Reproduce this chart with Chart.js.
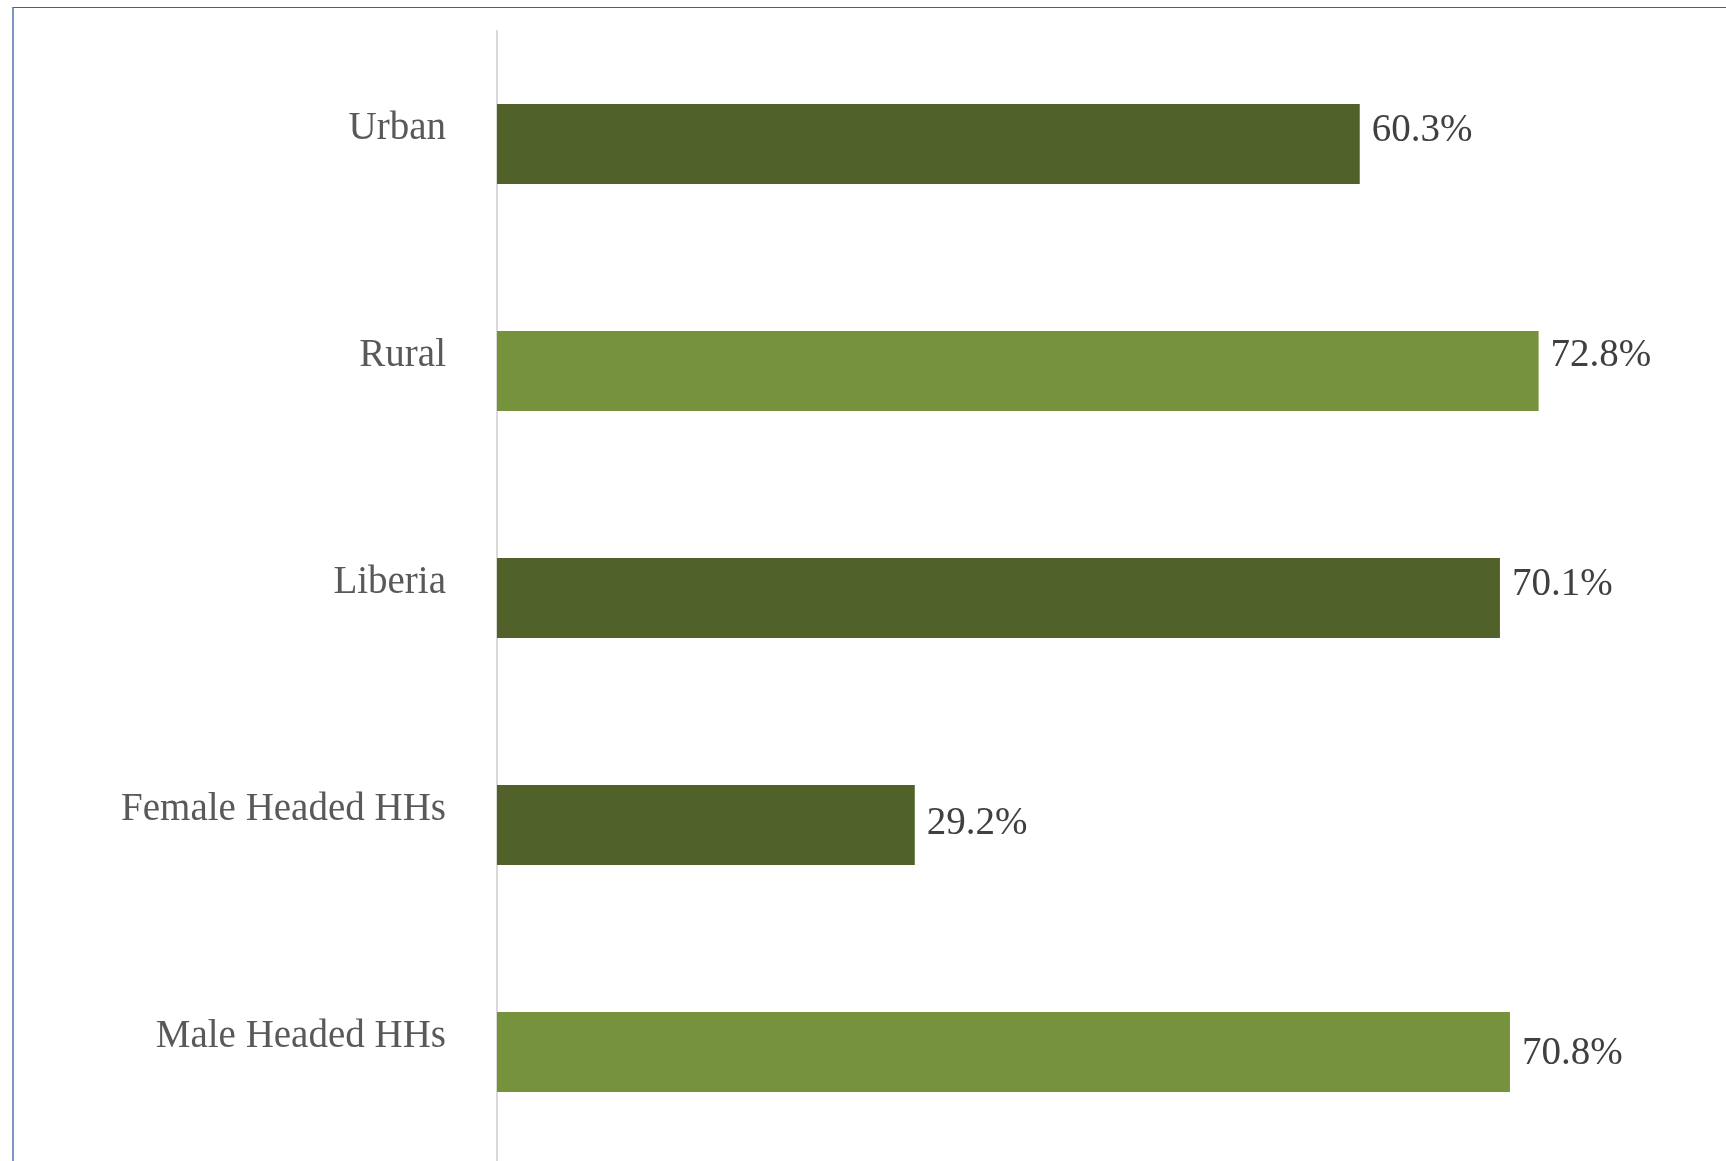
<!DOCTYPE html>
<html>
<head>
<meta charset="utf-8">
<script src="https://cdn.jsdelivr.net/npm/chart.js@4/dist/chart.umd.min.js"></script>
<style>
  html, body { margin: 0; padding: 0; background: #ffffff; overflow: hidden; width: 1726px; height: 1161px; }
  #frame { position: absolute; left: 12px; top: 7px; width: 1740px; height: 1200px; border-top: 1px solid #3d6098; border-left: 2px solid #7b98c6; box-sizing: border-box; }
  #wrap { position: absolute; left: 0; top: 0; width: 1726px; height: 1166px; }
</style>
</head>
<body>
<div id="frame"></div>
<div id="wrap"><canvas id="c" width="1726" height="1166"></canvas></div>
<script>
const categories = ["Urban", "Rural", "Liberia", "Female Headed HHs", "Male Headed HHs"];
const values = [60.3, 72.8, 70.1, 29.2, 70.8];
const barColors = ["#506129", "#77923c", "#506129", "#506129", "#77923c"];

const valueLabels = {
  id: 'valueLabels',
  afterDatasetsDraw(chart, args, opts) {
    const ctx = chart.ctx;
    const meta = chart.getDatasetMeta(0);
    ctx.save();
    ctx.font = opts.font;
    ctx.fillStyle = opts.color;
    ctx.textAlign = 'left';
    ctx.textBaseline = 'middle';
    meta.data.forEach((el, i) => {
      const v = chart.data.datasets[0].data[i];
      const dy = (opts.offsets && opts.offsets[i]) || 0;
      ctx.fillText(v.toFixed(1) + '%', el.x + opts.gap, el.y + dy);
    });
    ctx.restore();
  }
};

new Chart(document.getElementById('c'), {
  type: 'bar',
  data: {
    labels: categories,
    datasets: [{
      data: values,
      backgroundColor: barColors,
      borderWidth: 0,
      categoryPercentage: 1.0,
      barPercentage: 0.352
    }]
  },
  options: {
    indexAxis: 'y',
    responsive: false,
    animation: false,
    events: [],
    layout: { padding: { top: 30.5, bottom: 0.5, right: 84.4, left: 0 } },
    plugins: {
      legend: { display: false },
      tooltip: { enabled: false },
      valueLabels: {
        font: '39px "Liberation Serif", "Times New Roman", serif',
        color: '#404040',
        gap: 12,
        offsets: [-13, -15, -13, -1, 2]
      }
    },
    scales: {
      x: { display: false, min: 0, max: 80 },
      y: {
        afterFit(scale) { scale.width = 497; scale.paddingTop = 0; scale.paddingBottom = 0; },
        grid: { display: false, drawTicks: false },
        border: { display: true, color: '#d9d9d9', width: 2 },
        ticks: {
          padding: 51,
          labelOffset: -15,
          color: '#595959',
          font: { family: '"Liberation Serif", "Times New Roman", serif', size: 39 }
        }
      }
    }
  },
  plugins: [valueLabels]
});
</script>
</body>
</html>
